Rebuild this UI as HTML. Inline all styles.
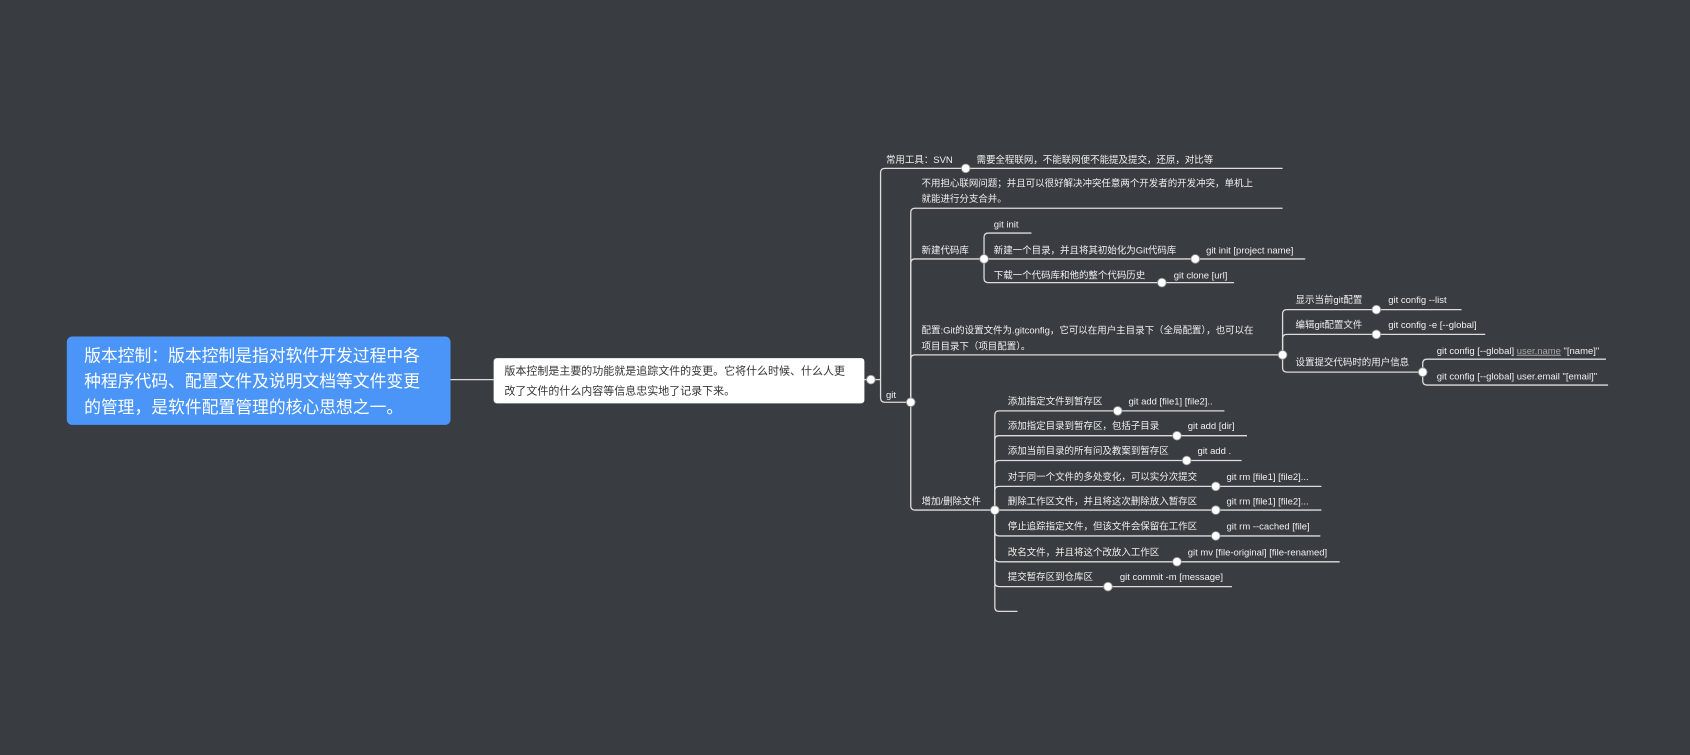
<!DOCTYPE html>
<html><head><meta charset="utf-8"><style>
html,body{margin:0;padding:0;background:#393c41;overflow:hidden}
svg{display:block}
text{font-family:"Liberation Sans","Noto Sans CJK SC",sans-serif}
.s{font-size:8.8px;fill:#f0f0f0}
</style></head><body>
<svg width="1690" height="755" viewBox="0 0 1568 700" xmlns="http://www.w3.org/2000/svg">
<rect x="0" y="0" width="1568" height="700" fill="#393c41"/>
<g fill="none" stroke="#dcdcdc" stroke-width="1.2">
<path d="M418 352 H458"/>
<path d="M802 352 H817"/>
<path d="M817 352 V160 Q817 156 821 156 H1190"/>
<path d="M817 352 V369 Q817 373 821 373 H845"/>
<path d="M845 373 V197 Q845 193 849 193 H1190"/>
<path d="M845 373 V244 Q845 240 849 240 H913"/>
<path d="M845 373 V333 Q845 329 849 329 H1190"/>
<path d="M845 373 V469 Q845 473 849 473 H923"/>
<path d="M913 240 V220 Q913 216 917 216 H957"/>
<path d="M913 240 H1211"/>
<path d="M913 240 V258 Q913 262 917 262 H1145"/>
<path d="M1190 329 V291 Q1190 287 1194 287 H1356"/>
<path d="M1190 329 V314 Q1190 310 1194 310 H1378"/>
<path d="M1190 329 V341 Q1190 345 1194 345 H1320"/>
<path d="M1320 345 V337 Q1320 333 1324 333 H1490"/>
<path d="M1320 345 V353 Q1320 357 1324 357 H1492"/>
<path d="M923 473 V385 Q923 381 927 381 H1136"/>
<path d="M923 473 V408 Q923 404 927 404 H1157"/>
<path d="M923 473 V431 Q923 427 927 427 H1152"/>
<path d="M923 473 V455 Q923 451 927 451 H1226"/>
<path d="M923 473 H1226"/>
<path d="M923 473 V493 Q923 497 927 497 H1225"/>
<path d="M923 473 V517 Q923 521 927 521 H1243"/>
<path d="M923 473 V540 Q923 544 927 544 H1143"/>
<path d="M923 473 V563 Q923 567 927 567 H944"/>
</g>
<g fill="#ffffff" stroke="#9a9a9a" stroke-width="0.8">
<circle cx="808" cy="352" r="4"/><circle cx="896" cy="156" r="4"/><circle cx="845" cy="373" r="4"/>
<circle cx="913" cy="240" r="4"/><circle cx="1109" cy="240" r="4"/><circle cx="1078" cy="262" r="4"/>
<circle cx="1190" cy="329" r="4"/><circle cx="1277" cy="287" r="4"/><circle cx="1277" cy="310" r="4"/><circle cx="1320" cy="345" r="4"/>
<circle cx="923" cy="473" r="4"/><circle cx="1037" cy="381" r="4"/><circle cx="1092" cy="404" r="4"/><circle cx="1101" cy="427" r="4"/>
<circle cx="1128" cy="451" r="4"/><circle cx="1128" cy="473" r="4"/><circle cx="1128" cy="497" r="4"/><circle cx="1092" cy="521" r="4"/><circle cx="1028" cy="544" r="4"/>
</g>
<rect x="62" y="312" width="356" height="82" rx="5" fill="#4a95f7"/>
<text x="78" y="335" font-size="15.6" fill="#fff">版本控制：版本控制是指对软件开发过程中各</text>
<text x="78" y="359" font-size="15.6" fill="#fff">种程序代码、配置文件及说明文档等文件变更</text>
<text x="78" y="383" font-size="15.6" fill="#fff">的管理，是软件配置管理的核心思想之一。</text>
<rect x="458" y="332" width="344" height="42" rx="3" fill="#ffffff"/>
<text x="468" y="347" font-size="10.2" fill="#333">版本控制是主要的功能就是追踪文件的变更。它将什么时候、什么人更</text>
<text x="468" y="366" font-size="10.2" fill="#333">改了文件的什么内容等信息忠实地了记录下来。</text>
<text class="s" x="822" y="369">git</text>
<text class="s" x="822" y="151">常用工具：SVN</text>
<text class="s" x="906" y="151">需要全程联网，不能联网便不能提及提交，还原，对比等</text>
<text class="s" x="855" y="173">不用担心联网问题；并且可以很好解决冲突任意两个开发者的开发冲突，单机上</text>
<text class="s" x="855" y="187">就能进行分支合并。</text>
<text class="s" x="855" y="235">新建代码库</text>
<text class="s" x="922" y="211">git init</text>
<text class="s" x="922" y="235">新建一个目录，并且将其初始化为Git代码库</text>
<text class="s" x="1119" y="235">git init [project name]</text>
<text class="s" x="922" y="258">下载一个代码库和他的整个代码历史</text>
<text class="s" x="1089" y="258">git clone [url]</text>
<text class="s" x="855" y="309">配置:Git的设置文件为.gitconfig，它可以在用户主目录下（全局配置），也可以在</text>
<text class="s" x="855" y="324">项目目录下（项目配置）。</text>
<text class="s" x="1202" y="281">显示当前git配置</text>
<text class="s" x="1288" y="281">git config --list</text>
<text class="s" x="1202" y="304">编辑git配置文件</text>
<text class="s" x="1288" y="304">git config -e [--global]</text>
<text class="s" x="1202" y="339">设置提交代码时的用户信息</text>
<text class="s" x="1333" y="328">git config [--global] <tspan fill="#aaa" text-decoration="underline">user.name</tspan> "[name]"</text>
<text class="s" x="1333" y="352">git config [--global] user.email "[email]"</text>
<text class="s" x="855" y="468">增加/删除文件</text>
<text class="s" x="935" y="375">添加指定文件到暂存区</text><text class="s" x="1047" y="375">git add [file1] [file2]..</text>
<text class="s" x="935" y="398">添加指定目录到暂存区，包括子目录</text><text class="s" x="1102" y="398">git add [dir]</text>
<text class="s" x="935" y="421">添加当前目录的所有问及教案到暂存区</text><text class="s" x="1111" y="421">git add .</text>
<text class="s" x="935" y="445">对于同一个文件的多处变化，可以实分次提交</text><text class="s" x="1138" y="445">git rm [file1] [file2]...</text>
<text class="s" x="935" y="468">删除工作区文件，并且将这次删除放入暂存区</text><text class="s" x="1138" y="468">git rm [file1] [file2]...</text>
<text class="s" x="935" y="491">停止追踪指定文件，但该文件会保留在工作区</text><text class="s" x="1138" y="491">git rm --cached [file]</text>
<text class="s" x="935" y="515">改名文件，并且将这个改放入工作区</text><text class="s" x="1102" y="515">git mv [file-original] [file-renamed]</text>
<text class="s" x="935" y="538">提交暂存区到仓库区</text><text class="s" x="1039" y="538">git commit -m [message]</text>
</svg>
</body></html>
